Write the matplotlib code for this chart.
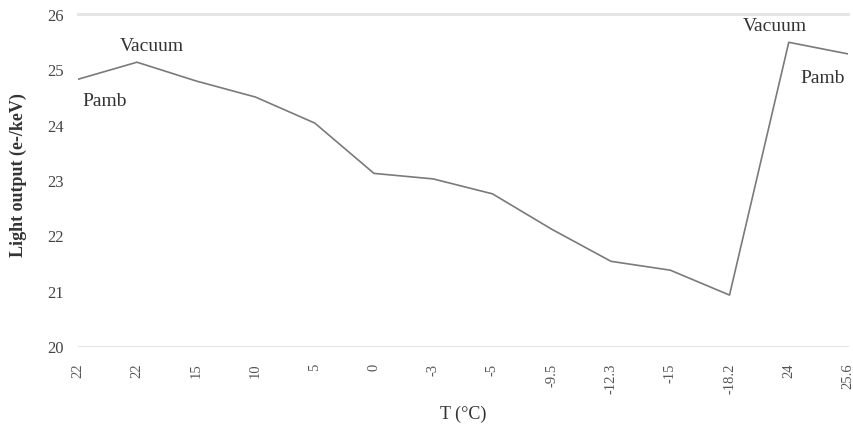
import matplotlib
matplotlib.use("Agg")
import matplotlib.pyplot as plt

categories = ["22", "22", "15", "10", "5", "0", "-3", "-5", "-9.5", "-12.3", "-15", "-18.2", "24", "25.6"]
light_output = [24.82, 25.13, 24.79, 24.5, 24.03, 23.12, 23.02, 22.75, 22.11, 21.53, 21.37, 20.92, 25.49, 25.28]

plt.rcParams['font.family'] = ['Liberation Serif', 'DejaVu Serif']

fig = plt.figure(figsize=(8.54, 4.31), dpi=100)
ax = fig.add_axes([0.091, 0.195, 0.902, 0.770])

x = list(range(len(categories)))
ax.plot(x, light_output, color='#7a7a7a', lw=1.2)

ax.set_xlim(0, len(categories) - 1)
ax.set_ylim(20, 26)
ax.set_yticks(range(20, 27))
ax.set_xticks(x)
ax.set_xticklabels(categories, rotation=90, fontsize=10.5, color='#555555')
ax.tick_params(axis='y', labelsize=12, colors='#444444', length=0, pad=10)
ax.tick_params(axis='x', length=0, pad=12)
for s in ['left', 'right', 'top']:
    ax.spines[s].set_visible(False)
ax.spines['bottom'].set_color('#e6e6e6')
ax.axhline(26, color='#e3e3e3', lw=2, clip_on=False)

ax.set_ylabel('Light output (e-/keV)', fontsize=13, fontweight='bold', color='#333333')
ax.yaxis.set_label_coords(-0.066, 0.518)
ax.set_xlabel('T (°C)', fontsize=13, color='#333333', labelpad=8)

ax.text(1.25, 25.44, 'Vacuum', fontsize=14, ha='center', va='center', color='#333333')
ax.text(0.456, 24.43, 'Pamb', fontsize=14, ha='center', va='center', color='#333333')
ax.text(11.76, 25.8, 'Vacuum', fontsize=14, ha='center', va='center', color='#333333')
ax.text(12.57, 24.86, 'Pamb', fontsize=14, ha='center', va='center', color='#333333')

fig.savefig('out.png', dpi=100)
